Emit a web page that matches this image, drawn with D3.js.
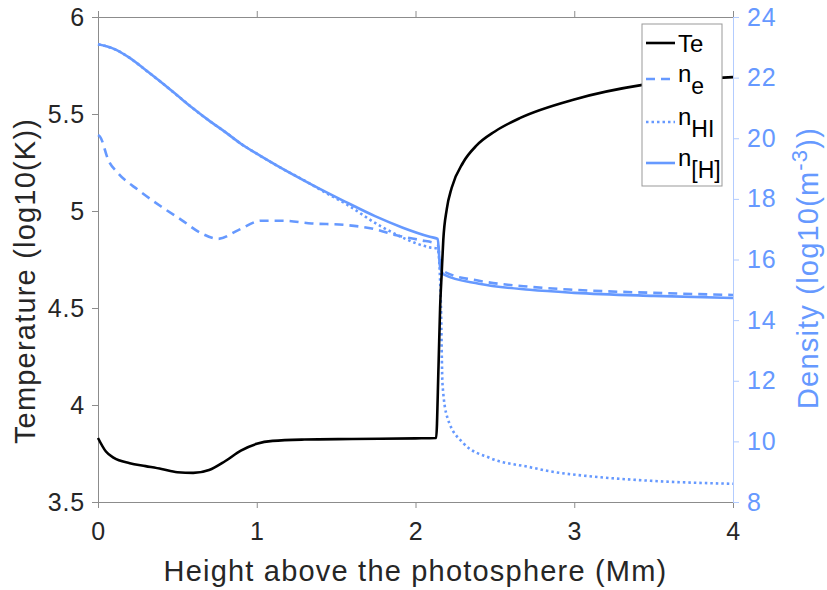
<!DOCTYPE html>
<html><head><meta charset="utf-8">
<script src="https://cdn.jsdelivr.net/npm/d3@7"></script>
<style>body{margin:0;background:#fff}svg{display:block;font-family:"Liberation Sans",Arial,Helvetica,sans-serif}</style>
</head><body><svg id="c" width="827" height="590"></svg>
<script>
const heightTe = [0,0.05,0.1,0.2,0.3,0.4,0.5,0.6,0.7,0.8,0.9,1.0,1.1,1.3,1.6,2.0,2.13,2.145,2.155,2.165,2.175,2.197,2.228,2.3,2.385,2.5,2.66,3.0,3.43,4.0];
const te = [3.83,3.76,3.727,3.70,3.685,3.67,3.653,3.65,3.665,3.71,3.765,3.80,3.815,3.822,3.825,3.828,3.83,4.2,4.5,4.68,4.85,5.01,5.12,5.25,5.338,5.41,5.48,5.575,5.65,5.69];
const heightNH = [0,0.1,0.2,0.3,0.4,0.5,0.6,0.7,0.8,0.9,1.0,1.136,1.346,1.556,1.745,1.92,2.09,2.14,2.155,2.18,2.4,2.72,3.0,3.5,4.0];
const nH = [23.1,22.95,22.65,22.25,21.84,21.41,20.98,20.58,20.21,19.82,19.49,19.07,18.47,17.91,17.43,17.05,16.75,16.68,15.75,15.5,15.2,15.0,14.9,14.8,14.73];
const heightNe = [0,0.013,0.065,0.128,0.254,0.4,0.527,0.653,0.758,0.884,1.03,1.157,1.346,1.556,1.745,1.88,2.03,2.14,2.16,2.2,2.4,2.72,3.0,3.5,4.0];
const ne = [20.1,20.05,19.28,18.84,18.29,17.74,17.30,16.86,16.68,16.97,17.28,17.28,17.19,17.14,17.0,16.8,16.64,16.5,15.75,15.55,15.3,15.1,15.0,14.9,14.83];
const heightNHI = [0,0.1,0.2,0.3,0.4,0.5,0.6,0.7,0.8,0.9,1.0,1.136,1.346,1.41,1.556,1.78,2.09,2.14,2.16,2.17,2.2,2.3,2.47,2.72,2.84,3.16,3.48,4.0];
const nHI = [23.1,22.95,22.65,22.25,21.84,21.41,20.98,20.58,20.21,19.82,19.49,19.07,18.47,18.27,17.85,17.1,16.4,16.35,14.5,11.9,10.8,9.95,9.45,9.15,9.02,8.82,8.7,8.6];
const xTicks = [0,1,2,3,4];
const tTicks = [3.5,4,4.5,5,5.5,6];
const dTicks = [8,10,12,14,16,18,20,22,24];

const blue = "#6699ff", axisGrey = "#8c8c8c", txt = "#262626";
const L = 98, R = 733, T = 17, B = 502;
const svg = d3.select("#c");
const x = d3.scaleLinear().domain([0,4]).range([L,R]);
const yT = d3.scaleLinear().domain([3.5,6]).range([B,T]);
const yD = d3.scaleLinear().domain([8,24]).range([B,T]);

// axes
const fs = 25, ls = "0.8px";
const gx = svg.append("g").attr("transform",`translate(0,${B})`).call(d3.axisBottom(x).tickValues(xTicks).tickFormat(d3.format("d")).tickSizeOuter(0).tickSize(6).tickPadding(14));
const gxt = svg.append("g").attr("transform",`translate(0,${T})`).call(d3.axisTop(x).tickValues(xTicks).tickFormat("").tickSizeOuter(0).tickSize(6));
const gl = svg.append("g").attr("transform",`translate(${L},0)`).call(d3.axisLeft(yT).tickValues(tTicks).tickFormat(d=>String(d)).tickSizeOuter(0).tickSize(6).tickPadding(7));
const gr = svg.append("g").attr("transform",`translate(${R},0)`).call(d3.axisRight(yD).tickValues(dTicks).tickFormat(d3.format("d")).tickSizeOuter(0).tickSize(6).tickPadding(8));
[gx,gxt,gl].forEach(g=>{g.selectAll("path,line").attr("stroke",axisGrey);g.selectAll("text").attr("fill",txt).style("font-size",fs+"px").style("letter-spacing",ls);});
gr.selectAll("path,line").attr("stroke","#b3ccff");
gr.selectAll("text").attr("fill",blue).style("font-size",fs+"px").style("letter-spacing",ls);
gx.selectAll("text").attr("dy","0.71em");

// lines
const curve = d3.curveMonotoneX;
const line = (xs, ys, yS) => d3.line().x((d,i)=>x(xs[i])).y((d,i)=>yS(ys[i])).curve(curve)(ys);
const plot = svg.append("g");
plot.append("path").attr("d",line(heightNH,nH,yD)).attr("fill","none").attr("stroke",blue).attr("stroke-width",2.6);
plot.append("path").attr("d",line(heightNHI,nHI,yD)).attr("fill","none").attr("stroke",blue).attr("stroke-width",2.6).attr("stroke-dasharray","2.5,3");
plot.append("path").attr("d",line(heightNe,ne,yD)).attr("fill","none").attr("stroke",blue).attr("stroke-width",2.6).attr("stroke-dasharray","9,6");
plot.append("path").attr("d",line(heightTe,te,yT)).attr("fill","none").attr("stroke","#000").attr("stroke-width",2.6);

// axis labels
const lfs = "29px", lls = "1.2px";
svg.append("text").attr("x",(L+R)/2).attr("y",581).attr("text-anchor","middle").attr("fill",txt).style("font-size",lfs).style("letter-spacing",lls).text("Height above the photosphere (Mm)");
svg.append("text").attr("transform",`translate(35,281) rotate(-90)`).attr("text-anchor","middle").attr("fill",txt).style("font-size",lfs).style("letter-spacing",lls).text("Temperature (log10(K))");
const dl = svg.append("text").attr("transform",`translate(818,268) rotate(-90)`).attr("text-anchor","middle").attr("fill",blue).style("font-size",lfs).style("letter-spacing",lls);
dl.append("tspan").text("Density (log10(m");
dl.append("tspan").attr("dy","-11").style("font-size","22px").text("-3");
dl.append("tspan").attr("dy","11").text("))");

// legend
const lg = svg.append("g");
lg.append("rect").attr("x",642).attr("y",24).attr("width",80).attr("height",162).attr("fill","#fff").attr("stroke","#999").attr("stroke-width",1);
const items = [
  {main:null, sub:null, label:"Te", color:"#000", dash:null, y:43},
  {main:"n", sub:"e", color:blue, dash:"9,6", y:79},
  {main:"n", sub:"HI", color:blue, dash:"2.5,3", y:122},
  {main:"n", sub:"[H]", color:blue, dash:null, y:163}
];
items.forEach(it=>{
  lg.append("line").attr("x1",646).attr("x2",675).attr("y1",it.y).attr("y2",it.y).attr("stroke",it.color).attr("stroke-width",2.6).attr("stroke-dasharray",it.dash);
  if(it.label){
    lg.append("text").attr("x",678).attr("y",it.y+9).attr("fill","#000").style("font-size","24px").text(it.label);
  } else {
    const t = lg.append("text").attr("x",678).attr("y",it.y+3).attr("fill","#000").style("font-size","24px");
    t.append("tspan").text(it.main);
    t.append("tspan").attr("dy",12).style("font-size","23px").text(it.sub);
  }
});
</script></body></html>
